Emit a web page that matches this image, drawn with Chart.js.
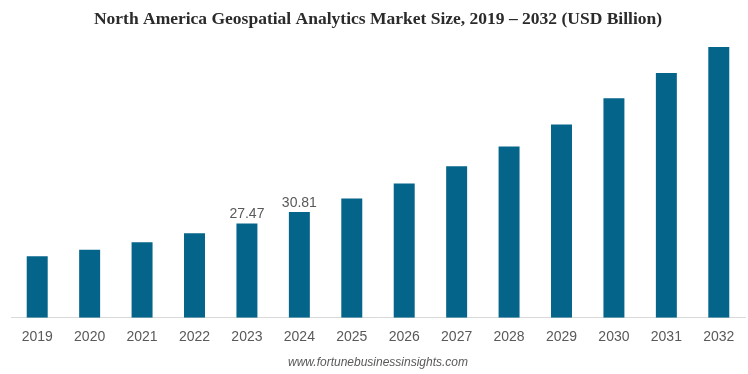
<!DOCTYPE html>
<html>
<head>
<meta charset="utf-8">
<script src="https://cdn.jsdelivr.net/npm/chart.js@4"></script>
<style>
  html, body { margin: 0; padding: 0; background: #fff; }
  #wrap { width: 748px; height: 374px; }
</style>
</head>
<body>
<div id="wrap"><canvas id="marketChart" width="748" height="374"></canvas></div>
<script>
const years = ['2019', '2020', '2021', '2022', '2023', '2024', '2025', '2026', '2027', '2028', '2029', '2030', '2031', '2032'];
const marketSize = [17.9, 19.8, 22.0, 24.6, 27.47, 30.81, 34.7, 39.1, 44.1, 49.9, 56.3, 63.9, 71.3, 78.8];
const labeledYears = ['2023', '2024'];

// draws value labels above selected bars only
const valueLabels = {
    id: 'valueLabels',
    afterDatasetsDraw(chart) {
        const ctx = chart.ctx;
        const meta = chart.getDatasetMeta(0);
        ctx.save();
        ctx.font = '14px "Liberation Sans", Arial, sans-serif';
        ctx.fillStyle = '#595959';
        ctx.textAlign = 'center';
        ctx.textBaseline = 'bottom';
        meta.data.forEach((bar, i) => {
            if (labeledYears.includes(years[i])) {
                ctx.fillText(marketSize[i].toFixed(2), bar.x, bar.y - 2);
            }
        });
        ctx.restore();
    }
};

const ctx = document.getElementById('marketChart').getContext('2d');
const marketChart = new Chart(ctx, {
    type: 'bar',
    data: {
        labels: years,
        datasets: [{
            data: marketSize,
            backgroundColor: '#05648a',
            categoryPercentage: 1,
            barPercentage: 0.4
        }]
    },
    options: {
        responsive: false,
        animation: false,
        layout: { padding: { left: 11, right: 3, top: 0, bottom: 0 } },
        plugins: {
            legend: { display: false },
            tooltip: { enabled: false },
            title: {
                display: true,
                text: 'North America Geospatial Analytics Market Size, 2019 \u2013 2032 (USD Billion)',
                color: '#2b2b2b',
                font: { family: '"Liberation Serif", "Times New Roman", serif', size: 17.5, weight: 'bold', lineHeight: 1.2 },
                padding: { top: 9, bottom: 13 }
            },
            subtitle: {
                display: true,
                position: 'bottom',
                text: 'www.fortunebusinessinsights.com',
                color: '#595959',
                font: { family: '"Liberation Sans", Arial, sans-serif', size: 12, style: 'italic', lineHeight: 1.2 },
                padding: { top: 7, bottom: 4 }
            }
        },
        scales: {
            x: {
                grid: { display: false },
                border: { display: true, color: '#d9d9d9', width: 1 },
                ticks: {
                    color: '#595959',
                    font: { family: '"Liberation Sans", Arial, sans-serif', size: 14, lineHeight: 1.2 },
                    padding: 3,
                    maxRotation: 0,
                    autoSkip: false
                }
            },
            y: {
                display: false,
                min: 0,
                max: 80
            }
        }
    },
    plugins: [valueLabels]
});
</script>
</body>
</html>
